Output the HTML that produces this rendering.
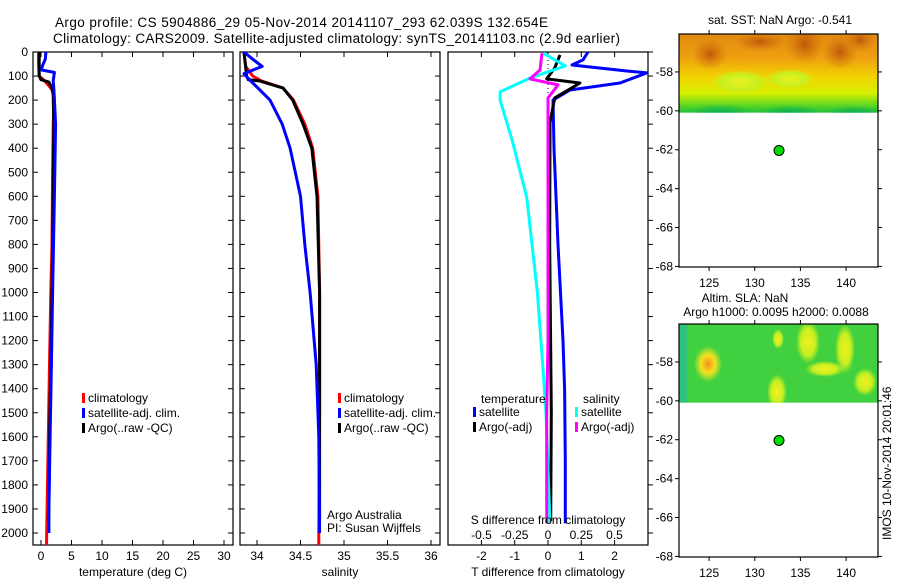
<!DOCTYPE html>
<html><head><meta charset="utf-8"><style>
body{margin:0;background:#fff;}
svg{display:block;font-family:"Liberation Sans",sans-serif;}
</style></head><body>
<svg id="fig" width="900" height="580" xmlns="http://www.w3.org/2000/svg">
<defs>
<linearGradient id="sstg" x1="0" y1="0" x2="0" y2="1">
<stop offset="0" stop-color="#e08a10"/><stop offset="0.3" stop-color="#eea010"/><stop offset="0.55" stop-color="#f2d400"/><stop offset="0.75" stop-color="#d8f000"/><stop offset="0.9" stop-color="#60d820"/><stop offset="1" stop-color="#20c040"/>
</linearGradient>
<radialGradient id="hot"><stop offset="0" stop-color="#f09020"/><stop offset="0.5" stop-color="#f8e020"/><stop offset="1" stop-color="#f8f020" stop-opacity="0"/></radialGradient>
<radialGradient id="yel"><stop offset="0" stop-color="#f0f020"/><stop offset="0.6" stop-color="#c8f020"/><stop offset="1" stop-color="#c8f020" stop-opacity="0"/></radialGradient>
<radialGradient id="dark"><stop offset="0" stop-color="#c05808"/><stop offset="1" stop-color="#d07010" stop-opacity="0"/></radialGradient>
<radialGradient id="grn"><stop offset="0" stop-color="#10b050"/><stop offset="1" stop-color="#10b050" stop-opacity="0"/></radialGradient>
</defs>
<g id="titles">
<text x="55" y="27" font-size="13.5" textLength="493">Argo profile: CS 5904886_29 05-Nov-2014 20141107_293 62.039S 132.654E</text>
<text x="53" y="43" font-size="13.5" textLength="567">Climatology: CARS2009. Satellite-adjusted climatology: synTS_20141103.nc (2.9d earlier)</text>
</g>
<g id="plots"></g>
<g id="maps"></g>
<text transform="translate(891,540) rotate(-90)" font-size="12">IMOS 10-Nov-2014 20:01:46</text>
</svg>
<script>
const NS="http://www.w3.org/2000/svg";
// depth axis
const depthTicks=[0,100,200,300,400,500,600,700,800,900,1000,1100,1200,1300,1400,1500,1600,1700,1800,1900,2000];
// temperature panel
const tempTicks=[0,5,10,15,20,25,30];
const tClimD=[0,50,100,120,150,170,200,300,500,800,1000,1300,1600,1900,2050];
const tClimV=[-0.4,-0.4,-0.3,0.6,1.6,2.1,2.2,2.0,1.9,1.8,1.6,1.4,1.2,1.0,0.9];
const tSatD=[0,30,60,75,85,120,150,300,600,1000,1300,1600,1900,2000];
const tSatV=[0.8,0.7,0.2,0.1,2.2,2.0,2.1,2.4,2.2,1.9,1.7,1.5,1.3,1.3];
const tArgoD=[0,100,115,125,150,180,300,600,1000,1300,1600,1900,1950];
const tArgoV=[-0.3,-0.3,0.0,1.3,1.8,2.0,2.1,2.0,1.8,1.6,1.4,1.3,1.2];
// salinity panel
const salTicks=[34,34.5,35,35.5,36];
const sClimD=[0,60,100,120,150,200,300,400,600,1000,1500,2000,2050];
const sClimV=[33.85,33.87,33.95,34.05,34.3,34.42,34.55,34.64,34.7,34.72,34.72,34.71,34.71];
const sSatD=[0,30,60,90,110,200,300,400,600,800,1000,1300,1600,2000];
const sSatV=[33.85,33.95,34.06,33.85,33.9,34.15,34.29,34.38,34.5,34.55,34.61,34.68,34.71,34.72];
const sArgoD=[0,100,115,120,150,200,300,400,600,1000,1500,1950];
const sArgoV=[33.85,33.88,33.9,34.03,34.3,34.41,34.53,34.63,34.69,34.72,34.72,34.72];
// difference panel
const tdTicks=[-2,-1,0,1,2];
const sdTicks=[-0.5,-0.25,0,0.25,0.5];
const tdSatD=[0,33,54,79,87,129,158,200,400,800,1200,1400,1700,1960];
const tdSatV=[1.2,1.05,0.72,2.37,2.97,2.16,0.66,0.15,0.18,0.3,0.45,0.5,0.52,0.52];
const tdArgoD=[12,66,112,129,191,295,800,1500,1950];
const tdArgoV=[0.36,0.2,-0.04,0.96,0.2,0.06,0.05,0.1,0.08];
const sdSatD=[5,58,108,166,200,366,603,1000,1300,1500,1960];
const sdSatV=[-0.035,0.13,-0.135,-0.36,-0.36,-0.27,-0.16,-0.08,-0.04,-0.015,0.015];
const sdArgoD=[5,75,112,137,191,600,1200,1500,1960];
const sdArgoV=[-0.045,-0.06,-0.135,0.075,0,0,0,-0.01,-0.01];
// maps
const lonTicks=[125,130,135,140];
const latTicks=[-58,-60,-62,-64,-66,-68];
const argoLon=132.654, argoLat=-62.039;

const yD=d=>52+d*0.2405;
function el(tag,attrs,parent,txt){const e=document.createElementNS(NS,tag);for(const k in attrs)e.setAttribute(k,attrs[k]);if(txt!==undefined)e.textContent=txt;parent.appendChild(e);return e;}
const plots=document.getElementById('plots');

function frame(x0,x1,name){
  const g=el('g',{},plots);
  
  
  const r=el('rect',{x:x0,y:52,width:x1-x0,height:493,fill:'none',stroke:'#000','stroke-width':1.2},g);
  
  
  return g;
}
function line(g,D,V,xf,color,name,w){
  const pts=D.map((d,i)=>xf(V[i]).toFixed(1)+','+yD(d).toFixed(1)).join(' ');
  const p=el('polyline',{points:pts,fill:'none',stroke:color,'stroke-width':w||3,'stroke-linejoin':'round'},g);
  
  
}
function xticks(g,ticks,xf,fmt,ty){
  ticks.forEach(t=>{const x=xf(t);
    el('line',{x1:x,y1:545,x2:x,y2:540,stroke:'#000'},g);
    el('line',{x1:x,y1:52,x2:x,y2:57,stroke:'#000'},g);
    const tx=el('text',{x:x,y:ty||560,'font-size':12,'text-anchor':'middle'},g,fmt?fmt(t):String(t));
    
    
  });
}
function yticks(g,x0,x1){depthTicks.forEach(d=>{const y=yD(d);
  el('line',{x1:x0,y1:y,x2:x0+5,y2:y,stroke:'#000'},g);
  el('line',{x1:x1,y1:y,x2:x1-5,y2:y,stroke:'#000'},g);});}
function legend(g,x,y,items){items.forEach((it,i)=>{const yy=y+i*15;
  const m=el('rect',{x:x,y:yy-9,width:3,height:10,fill:it[1]},g);
  
  
  const t=el('text',{x:x+6,y:yy,'font-size':12},g,it[0]);
  
  
});}

// Panel 1
const xT=v=>41+v*6.1;
const g1=frame(33,233,'temperature-panel');
depthTicks.forEach(d=>{const t=el('text',{x:28,y:yD(d)+4,'font-size':12,'text-anchor':'end'},g1,String(d));
  
  });
yticks(g1,33,233);xticks(g1,tempTicks,xT);
line(g1,tClimD,tClimV,xT,'#f00','temp-climatology-line');
line(g1,tArgoD,tArgoV,xT,'#000','temp-argo-line');
line(g1,tSatD,tSatV,xT,'#00f','temp-satellite-line');
legend(g1,82,402,[['climatology','#f00'],['satellite-adj. clim.','#00f'],['Argo(..raw -QC)','#000']]);
const xl1=el('text',{x:133,y:576,'font-size':12,'text-anchor':'middle'},g1,'temperature (deg C)');


// Panel 2
const xS=v=>257+(v-34)*87;
const g2=frame(240,440,'salinity-panel');
yticks(g2,240,440);xticks(g2,salTicks,xS);
line(g2,sClimD,sClimV,xS,'#f00','sal-climatology-line');
line(g2,sArgoD,sArgoV,xS,'#000','sal-argo-line');
line(g2,sSatD,sSatV,xS,'#00f','sal-satellite-line');
legend(g2,338,402,[['climatology','#f00'],['satellite-adj. clim.','#00f'],['Argo(..raw -QC)','#000']]);
const a1=el('text',{x:327,y:519,'font-size':12},g2,'Argo Australia');
const a2=el('text',{x:327,y:532,'font-size':12},g2,'PI: Susan Wijffels');
const xl2=el('text',{x:340,y:576,'font-size':12,'text-anchor':'middle'},g2,'salinity');


// Panel 3
const xTD=v=>548+v*33.3, xSD=v=>548+v*133;
const g3=frame(448,648,'difference-panel');
depthTicks.forEach(d=>{const y=yD(d);el('line',{x1:648,y1:y,x2:653,y2:y,stroke:'#000'},g3);});
xticks(g3,tdTicks,xTD);
el('line',{x1:548,y1:52,x2:548,y2:100,stroke:'#000','stroke-dasharray':'1,3'},g3);
line(g3,tdSatD,tdSatV,xTD,'#00f','tdiff-satellite-line');
line(g3,tdArgoD,tdArgoV,xTD,'#000','tdiff-argo-line');
line(g3,sdSatD,sdSatV,xSD,'#0ff','sdiff-satellite-line');
line(g3,sdArgoD,sdArgoV,xSD,'#f0f','sdiff-argo-line');
const lt=el('text',{x:481,y:403,'font-size':12},g3,'temperature');
const ls=el('text',{x:583,y:403,'font-size':12},g3,'salinity');
legend(g3,473,416,[['satellite','#00f'],['Argo(-adj)','#000']]);
legend(g3,575,416,[['satellite','#0ff'],['Argo(-adj)','#f0f']]);
const st=el('text',{x:548,y:524,'font-size':12,'text-anchor':'middle'},g3,'S difference from climatology');
sdTicks.forEach(t=>{const tx=el('text',{x:xSD(t),y:539,'font-size':12,'text-anchor':'middle'},g3,String(t));});
const xl3=el('text',{x:548,y:576,'font-size':12,'text-anchor':'middle'},g3,'T difference from climatology');


// Maps
const maps=document.getElementById('maps');
const xLon=v=>679+(v-121.7)*9.13;
function map(top,name,kind){
  const yLat=v=>top+(-56.05-v)*19.45;
  const g=el('g',{},maps);
  
  
  const yb=yLat(-60.1);
  const clip='c'+top;
  const cp=el('clipPath',{id:clip},g);el('rect',{x:679,y:top,width:199,height:yb-top},cp);
  const hg=el('g',{'clip-path':'url(#'+clip+')'},g);
  
  
  if(kind==='sst'){
    el('rect',{x:679,y:top,width:199,height:yb-top,fill:'url(#sstg)'},hg);
    [[805,top+10,20,20],[710,top+20,18,16],[840,top+18,18,18],[760,top+8,25,10],[860,top+6,15,12]].forEach(b=>el('ellipse',{cx:b[0],cy:b[1],rx:b[2],ry:b[3],fill:'url(#dark)'},hg));
    [[740,top+48,30,12],[790,top+45,25,10]].forEach(b=>el('ellipse',{cx:b[0],cy:b[1],rx:b[2],ry:b[3],fill:'url(#yel)'},hg));
    [[720,top+78,30,8],[790,top+78,30,7],[855,top+78,30,6]].forEach(b=>el('ellipse',{cx:b[0],cy:b[1],rx:b[2],ry:b[3],fill:'url(#grn)'},hg));
  }else{
    el('rect',{x:679,y:top,width:199,height:yb-top,fill:'#40d040'},hg);
    el('rect',{x:679,y:top,width:8,height:yb-top,fill:'#30c080'},hg);
    [[708,top+40,14,18,'hot'],[777,top+68,10,18,'yel'],[808,top+18,12,22,'yel'],[845,top+25,10,25,'yel'],[865,top+58,12,14,'yel'],[778,top+15,6,10,'yel'],[825,top+45,20,8,'yel']].forEach(b=>el('ellipse',{cx:b[0],cy:b[1],rx:b[2],ry:b[3],fill:'url(#'+b[4]+')'},hg));
  }
  const fr=el('rect',{x:679,y:top,width:199,height:233,fill:'none',stroke:'#000','stroke-width':1.2},g);
  
  latTicks.forEach(l=>{const y=yLat(l);
    el('line',{x1:679,y1:y,x2:675,y2:y,stroke:'#000'},g);el('line',{x1:878,y1:y,x2:882,y2:y,stroke:'#000'},g);
    const t=el('text',{x:673,y:y+4,'font-size':12,'text-anchor':'end'},g,String(l));
    });
  lonTicks.forEach(l=>{const x=xLon(l);
    el('line',{x1:x,y1:top,x2:x,y2:top-4,stroke:'#000'},g);el('line',{x1:x,y1:top+233,x2:x,y2:top+237,stroke:'#000'},g);
    const t=el('text',{x:x,y:top+253,'font-size':12,'text-anchor':'middle'},g,String(l));
    });
  const c=el('circle',{cx:xLon(argoLon),cy:yLat(argoLat),r:5,fill:'#00dd00',stroke:'#000','stroke-width':1},g);
  
  return g;
}
const m1=map(34,'sst-map','sst');
const t1=el('text',{x:780,y:24,'font-size':12,'text-anchor':'middle'},m1,'sat. SST: NaN  Argo: -0.541');

const m2=map(324,'sla-map','sla');
const t2=el('text',{x:745,y:302,'font-size':12,'text-anchor':'middle'},m2,'Altim. SLA: NaN');

const t3=el('text',{x:776,y:316,'font-size':12,'text-anchor':'middle'},m2,'Argo h1000: 0.0095 h2000: 0.0088');

</script>
</body></html>
